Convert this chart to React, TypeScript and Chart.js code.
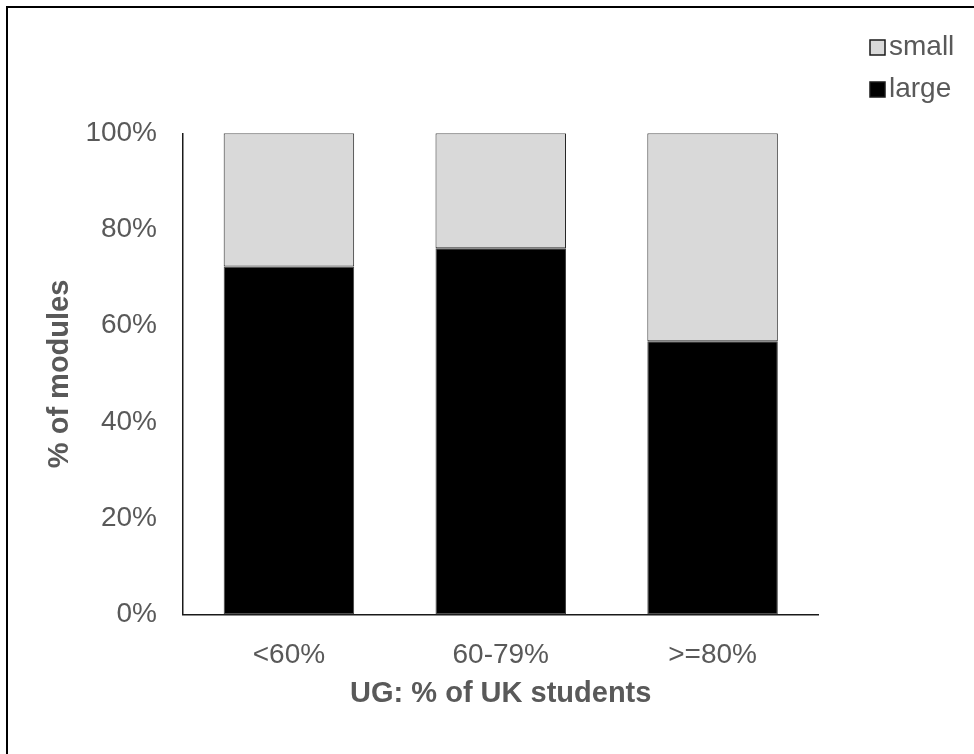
import React, { useEffect, useRef } from "react";
import { Chart, registerables } from "chart.js";

Chart.register(...registerables);

const categories = ["<60%", "60-79%", ">=80%"];
const largeValues = [72.3, 76.1, 56.8];
const smallValues = [27.7, 23.9, 43.2];
const yTickValues = [0, 20, 40, 60, 80, 100];
const seriesLarge = "large";
const seriesSmall = "small";
const xTitle = "UG: % of UK students";
const yTitle = "% of modules";

const FONT = "'Liberation Sans', Arial, Helvetica, sans-serif";
const TEXT = "#595959";

const legendPlugin = {
  id: "cornerLegend",
  afterDraw(chart: any) {
    const ctx = chart.ctx;
    const items = [...chart.data.datasets].reverse();
    ctx.save();
    ctx.font = `28px ${FONT}`;
    ctx.textBaseline = "middle";
    ctx.textAlign = "left";
    items.forEach((ds: any, i: number) => {
      const y = 47 + i * 42;
      ctx.fillStyle = ds.backgroundColor;
      ctx.fillRect(870, y - 7, 15, 15);
      ctx.strokeStyle = "#1a1a1a";
      ctx.lineWidth = 1.5;
      ctx.strokeRect(870, y - 7, 15, 15);
      ctx.fillStyle = TEXT;
      ctx.fillText(ds.label, 889, y);
    });
    ctx.restore();
  },
};

export default function App() {
  const ref = useRef<HTMLCanvasElement | null>(null);

  useEffect(() => {
    document.body.style.margin = "0";
    document.body.style.overflow = "hidden";
    if (!ref.current) return;
    const chart = new Chart(ref.current, {
      type: "bar",
      data: {
        labels: categories,
        datasets: [
          {
            label: seriesLarge,
            data: largeValues,
            backgroundColor: "#000000",
            borderColor: "#404040",
            borderWidth: 1,
            borderSkipped: false,
            barPercentage: 0.616,
            categoryPercentage: 1,
          },
          {
            label: seriesSmall,
            data: smallValues,
            backgroundColor: "#d9d9d9",
            borderColor: "#262626",
            borderWidth: 1,
            borderSkipped: false,
            barPercentage: 0.616,
            categoryPercentage: 1,
          },
        ],
      },
      options: {
        responsive: false,
        animation: false,
        devicePixelRatio: 1,
        layout: { padding: { top: 133.3, right: 155.5, bottom: 0, left: 0 } },
        plugins: {
          legend: { display: false },
          tooltip: { enabled: false },
        },
        scales: {
          x: {
            stacked: true,
            grid: { display: false, drawTicks: false },
            border: { display: true, color: "#1a1a1a", width: 1.5 },
            ticks: {
              padding: 24,
              color: TEXT,
              font: { family: FONT, size: 28 },
            },
            title: {
              display: true,
              text: xTitle,
              color: TEXT,
              font: { family: FONT, size: 29, weight: "bold" },
              padding: { top: 0, bottom: 43 },
            },
            afterFit: (s: any) => {
              s.height = 139.5;
            },
          },
          y: {
            stacked: true,
            min: 0,
            max: 100,
            grid: { display: false, drawTicks: false },
            border: { display: true, color: "#1a1a1a", width: 1.5 },
            afterBuildTicks: (s: any) => {
              s.ticks = yTickValues.map((v) => ({ value: v }));
            },
            ticks: {
              padding: 26,
              color: TEXT,
              font: { family: FONT, size: 28 },
              callback: (v: any) => `${v}%`,
            },
            title: {
              display: true,
              text: yTitle,
              color: TEXT,
              font: { family: FONT, size: 29, weight: "bold" },
              padding: { top: 43, bottom: 0 },
            },
            afterFit: (s: any) => {
              s.width = 183;
            },
          },
        },
      },
      plugins: [legendPlugin],
    });
    return () => chart.destroy();
  }, []);

  return (
    <div style={{ position: "fixed", left: 0, top: 0, width: 974, height: 754, overflow: "hidden", background: "#fff" }}>
      <div
        style={{
          position: "absolute",
          left: 6,
          top: 6,
          width: 1200,
          height: 1200,
          borderLeft: "2px solid #000",
          borderTop: "2px solid #000",
        }}
      />
      <canvas ref={ref} width={974} height={754} style={{ position: "absolute", left: 0, top: 0, width: 974, height: 754 }} />
    </div>
  );
}
